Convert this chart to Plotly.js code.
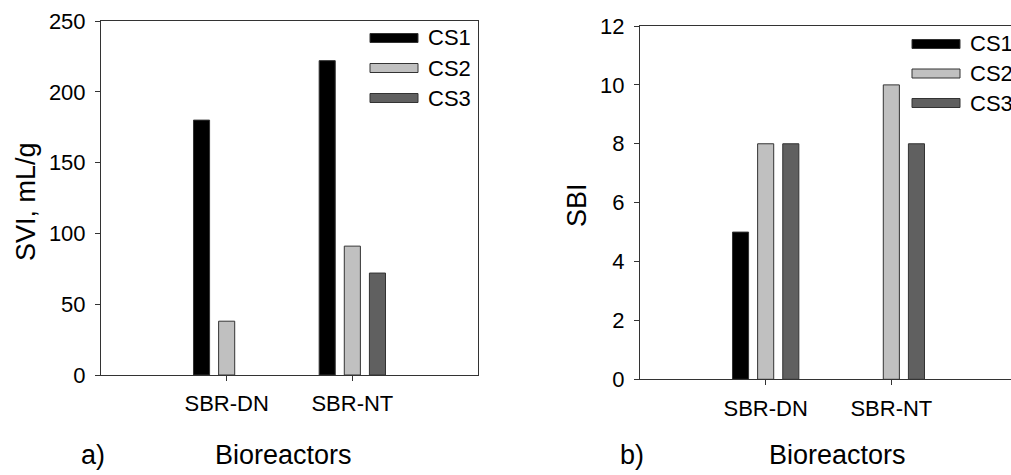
<!DOCTYPE html>
<html>
<head>
<meta charset="utf-8">
<script src="https://cdn.plot.ly/plotly-3.0.1.min.js"></script>
<style>
html,body{margin:0;padding:0;overflow:hidden;background:#fff;}
#chart{width:1020px;height:475px;}
</style>
</head>
<body>
<div id="chart"></div>
<script>
// ---- data ----
const categories = ['SBR-DN', 'SBR-NT'];
const seriesNames = ['CS1', 'CS2', 'CS3'];
const sviCS1 = [180, 222];
const sviCS2 = [38, 91];
const sviCS3 = [null, 72];
const sbiCS1 = [5, null];
const sbiCS2 = [8, 10];
const sbiCS3 = [8, 8];
const sviTicks = [0, 50, 100, 150, 200, 250];
const sbiTicks = [0, 2, 4, 6, 8, 10, 12];
const xTitle = 'Bioreactors';
const sviTitle = 'SVI, mL/g';
const sbiTitle = 'SBI';
const panelLabels = ['a)', 'b)'];

// ---- styling ----
const W = 1020, H = 475;
const px = x => x / W;
const py = y => 1 - y / H;
const colors = ['#000000', '#c0c0c0', '#606060'];
const lineCol = '#333333';
const FONT = 'Liberation Sans, Arial, Helvetica, sans-serif';
const TICK = 22, LEG = 22, TITLE = 27;

const sviSeries = [sviCS1, sviCS2, sviCS3];
const sbiSeries = [sbiCS1, sbiCS2, sbiCS3];

const traces = [];
seriesNames.forEach((name, i) => {
  traces.push({
    type: 'bar', name: name, x: categories, y: sviSeries[i],
    xaxis: 'x', yaxis: 'y', showlegend: false,
    marker: {color: colors[i], line: {color: lineCol, width: 1}},
    hoverinfo: 'x+y+name'
  });
});
seriesNames.forEach((name, i) => {
  traces.push({
    type: 'bar', name: name, x: categories, y: sbiSeries[i],
    xaxis: 'x2', yaxis: 'y2', showlegend: false,
    marker: {color: colors[i], line: {color: lineCol, width: 1}},
    hoverinfo: 'x+y+name'
  });
});

function xAxis(d0, d1, anchor) {
  return {
    type: 'category', categoryorder: 'array', categoryarray: categories,
    range: [-1, 2], domain: [px(d0), px(d1)], anchor: anchor,
    showline: true, linecolor: lineCol, linewidth: 1, mirror: true,
    ticks: 'outside', ticklen: 5, tickcolor: lineCol, tickwidth: 1,
    ticklabelstandoff: 4,
    tickfont: {size: TICK, color: '#000', family: FONT},
    showgrid: false, zeroline: false, automargin: false, fixedrange: true
  };
}
function yAxis(top, bottom, range, tickvals, anchor) {
  return {
    range: range, domain: [py(bottom), py(top)], anchor: anchor,
    tickmode: 'array', tickvals: tickvals, ticktext: tickvals.map(String),
    showline: true, linecolor: lineCol, linewidth: 1, mirror: true,
    ticks: 'outside', ticklen: 5, tickcolor: lineCol, tickwidth: 1,
    ticklabelstandoff: 5,
    tickfont: {size: TICK, color: '#000', family: FONT},
    showgrid: false, zeroline: false, automargin: false, fixedrange: true
  };
}

const shapes = [];
const annotations = [];
function legend(x0, x1, rows, textX) {
  seriesNames.forEach((name, i) => {
    const cy = rows[i];
    shapes.push({
      type: 'rect', xref: 'paper', yref: 'paper',
      x0: px(x0), x1: px(x1), y0: py(cy + 4.5), y1: py(cy - 4.5),
      fillcolor: colors[i], line: {color: lineCol, width: 1}
    });
    annotations.push({
      xref: 'paper', yref: 'paper', x: px(textX), y: py(cy),
      xanchor: 'left', yanchor: 'middle', showarrow: false, text: name,
      font: {size: LEG, color: '#000', family: FONT}
    });
  });
}
legend(370, 418, [38, 68, 98], 426);
legend(912, 960, [44, 73.5, 103], 968);

function txt(t, x, y, size, angle) {
  annotations.push({
    xref: 'paper', yref: 'paper', x: px(x), y: py(y),
    xanchor: 'center', yanchor: 'middle', showarrow: false, text: t,
    textangle: angle || 0, font: {size: size, color: '#000', family: FONT}
  });
}
txt(xTitle, 283, 455, TITLE);
txt(xTitle, 837, 455, TITLE);
txt(panelLabels[0], 93, 455, TITLE);
txt(panelLabels[1], 632, 455, TITLE);
txt(sviTitle, 26, 202, TITLE, -90);
txt(sbiTitle, 577, 205, TITLE, -90);

const layout = {
  width: W, height: H,
  margin: {l: 0, r: 0, t: 0, b: 0, pad: 0},
  paper_bgcolor: '#fff', plot_bgcolor: '#fff',
  font: {family: FONT, color: '#000'},
  barmode: 'group', bargap: 0.4, bargroupgap: 0.36,
  showlegend: false,
  xaxis: xAxis(101, 478, 'y'),
  yaxis: yAxis(21, 375, [0, 250], sviTicks, 'x'),
  xaxis2: xAxis(640, 1017, 'y2'),
  yaxis2: yAxis(26, 379.3, [0, 12], sbiTicks, 'x2'),
  shapes: shapes,
  annotations: annotations
};

Plotly.newPlot('chart', traces, layout, {displayModeBar: false, staticPlot: true});
</script>
</body>
</html>
